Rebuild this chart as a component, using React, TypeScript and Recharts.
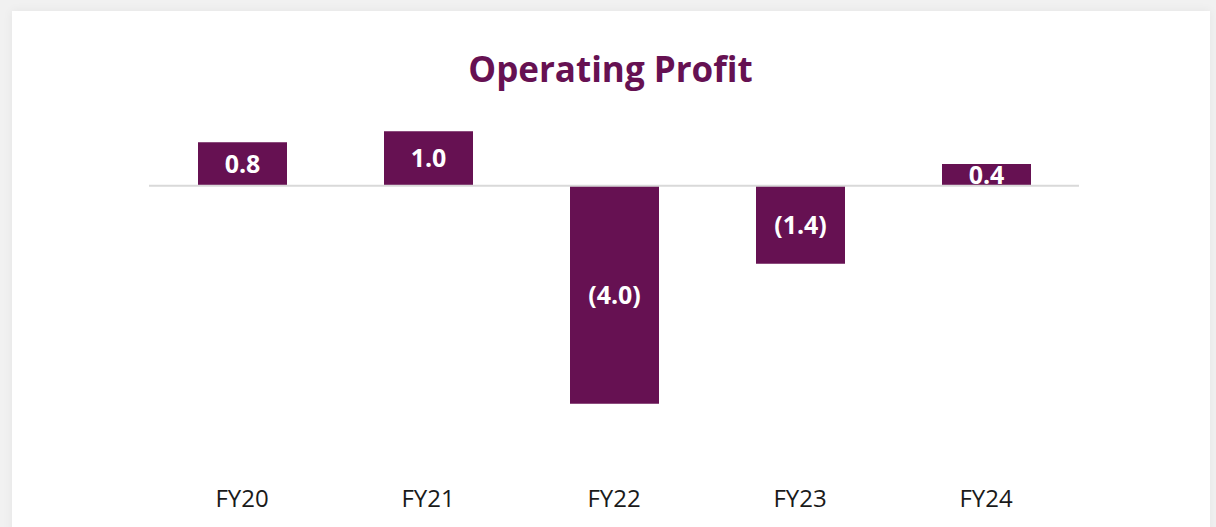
import { BarChart, Bar, XAxis, YAxis, ReferenceLine, LabelList, Cell } from "recharts"

const years = ["FY20", "FY21", "FY22", "FY23", "FY24"]
const operatingProfit = [0.8, 1.0, -4.0, -1.43, 0.4]

const PURPLE = "#661152"
const FONT = "'Open Sans', Lato, sans-serif"

const chartData = years.map((year, i) => ({ year, value: operatingProfit[i] }))

const formatValue = (v: unknown) => {
  const n = Number(v)
  return n < 0 ? `(${Math.abs(n).toFixed(1)})` : n.toFixed(1)
}

export default function App() {
  return (
    <div
      style={{
        position: "fixed",
        left: 0,
        top: 0,
        width: 1216,
        height: 527,
        background: "#f1f1f1",
        overflow: "hidden",
      }}
    >
      <div
        style={{
          position: "absolute",
          left: 12,
          top: 11,
          width: 1198,
          height: 540,
          background: "#ffffff",
          boxShadow: "0 0 10px rgba(0,0,0,0.06)",
        }}
      />
      <div
        style={{
          position: "absolute",
          left: 0,
          top: 45,
          width: 1221,
          textAlign: "center",
          fontFamily: FONT,
          fontWeight: 700,
          fontSize: 35,
          color: PURPLE,
        }}
      >
        Operating Profit
      </div>
      <div style={{ position: "absolute", left: 0, top: 0 }}>
        <BarChart
          width={1216}
          height={527}
          data={chartData}
          margin={{ top: 104, right: 137, left: 149, bottom: 36 }}
          barSize={89}
        >
          <XAxis
            dataKey="year"
            height={60}
            axisLine={false}
            tickLine={false}
            tickSize={0}
            tickMargin={59}
            tick={{ fill: "#1a1a1a", fontSize: 24, fontFamily: FONT }}
          />
          <YAxis hide domain={[-4.5, 1.5]} />
          <Bar dataKey="value" fill={PURPLE} isAnimationActive={false}>
            {chartData.map((entry) => (
              <Cell key={entry.year} fill={PURPLE} />
            ))}
            <LabelList
              dataKey="value"
              position="center"
              formatter={formatValue}
              fill="#ffffff"
              fontSize={25}
              fontWeight={700}
              fontFamily={FONT}
            />
          </Bar>
          <ReferenceLine y={0} stroke="#d9d9d9" strokeWidth={2} />
        </BarChart>
      </div>
    </div>
  )
}
